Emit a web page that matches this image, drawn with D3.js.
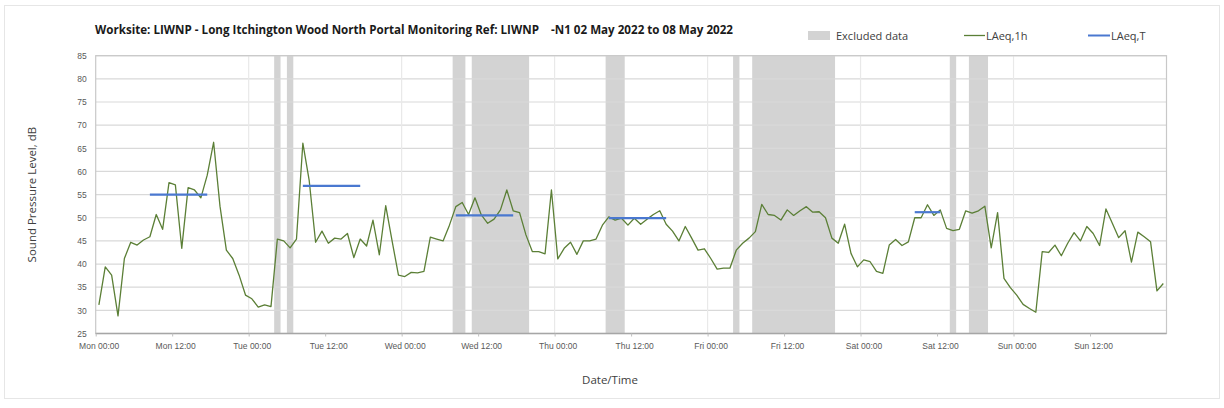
<!DOCTYPE html>
<html>
<head>
<meta charset="utf-8">
<script src="https://cdn.jsdelivr.net/npm/d3@7"></script>
<style>
	body { margin: 0; background: #fff; }
	svg { display: block; font-family: "Open Sans", "Noto Sans", sans-serif; }
	.tick text { fill: #595959; font-size: 8.5px; }
	.domain { display: none; }
</style>
</head>
<body>
<svg id="chart" width="1224" height="408"></svg>
<script>
// monitoring week, hourly LAeq values (first value is Mon 02 May 00:00-01:00)
var weekStart = "2022-05-02T00:00",
	weekEnd = "2022-05-09T00:00";

var laeq1h = [
	31.2, 39.4, 37.6, 28.8, 41.2, 44.7, 44.1, 45.2, 45.9, 50.7, 47.5, 57.6,
	57.1, 43.4, 56.5, 56.0, 54.3, 59.2, 66.3, 52.5, 43.0, 41.2, 37.6, 33.3,
	32.5, 30.7, 31.2, 30.8, 45.4, 45.0, 43.5, 45.4, 66.1, 58.0, 44.7, 47.1,
	44.5, 45.6, 45.4, 46.6, 41.4, 45.4, 43.9, 49.5, 42.0, 52.6, 45.0, 37.6,
	37.3, 38.2, 38.1, 38.4, 45.8, 45.4, 45.0, 48.4, 52.4, 53.3, 50.7, 54.3,
	50.6, 48.8, 49.7, 51.7, 56.0, 51.5, 51.1, 46.3, 42.7, 42.7, 42.2, 56.0,
	41.1, 43.4, 44.7, 42.1, 45.0, 45.0, 45.4, 48.4, 50.2, 49.5, 49.9, 48.4,
	49.9, 48.6, 49.7, 50.7, 51.5, 48.6, 47.1, 45.0, 48.1, 45.6, 43.0, 43.3,
	41.2, 38.9, 39.1, 39.1, 43.0, 44.5, 45.6, 47.0, 52.9, 50.7, 50.5, 49.5,
	51.7, 50.5, 51.5, 52.4, 51.2, 51.3, 50.0, 45.6, 44.5, 48.6, 42.3, 39.4,
	40.9, 40.5, 38.4, 38.0, 44.1, 45.3, 44.0, 44.8, 50.0, 50.0, 52.8, 50.5,
	51.7, 47.7, 47.2, 47.5, 51.5, 51.0, 51.5, 52.5, 43.5, 51.1, 36.9, 34.9,
	33.3, 31.3, 30.4, 29.6, 42.7, 42.5, 44.1, 41.8, 44.5, 46.8, 45.0, 48.1,
	46.6, 44.0, 51.9, 48.8, 45.7, 47.2, 40.4, 46.9, 45.9, 44.8, 34.2, 35.8
];

// daytime LAeq,T periods
var laeqTStart = ["2022-05-02T08:30", "2022-05-03T08:30", "2022-05-04T08:30", "2022-05-05T08:30", "2022-05-07T08:30"],
	laeqTEnd = ["2022-05-02T17:30", "2022-05-03T17:30", "2022-05-04T17:30", "2022-05-05T17:30", "2022-05-07T12:30"],
	laeqTValue = [55.0, 56.9, 50.5, 49.9, 51.2];

// excluded data periods
var excludedStart = ["2022-05-03T04:00", "2022-05-03T06:00", "2022-05-04T08:00", "2022-05-04T11:00",
	"2022-05-05T08:00", "2022-05-06T04:00", "2022-05-06T07:00", "2022-05-07T14:00", "2022-05-07T17:00"],
	excludedEnd = ["2022-05-03T05:00", "2022-05-03T07:00", "2022-05-04T10:00", "2022-05-04T20:00",
	"2022-05-05T11:00", "2022-05-06T05:00", "2022-05-06T20:00", "2022-05-07T15:00", "2022-05-07T20:00"];

var yTicks = [25, 30, 35, 40, 45, 50, 55, 60, 65, 70, 75, 80, 85];

var parse = d3.utcParse("%Y-%m-%dT%H:%M"),
	t0 = parse(weekStart),
	t1 = parse(weekEnd);

var margin = {left: 95.7, right: 57.5, top: 55.7, bottom: 74.5},
	W = 1224, H = 408;

var svg = d3.select("#chart");

var x = d3.scaleUtc()
	.domain([t0, t1])
	.range([margin.left, W - margin.right]);
var y = d3.scaleLinear()
	.domain([25, 85])
	.range([H - margin.bottom, margin.top]);

// outer frame
svg.append("rect")
	.attr("x", 4.5).attr("y", 5.5)
	.attr("width", 1215).attr("height", 393)
	.attr("fill", "none")
	.attr("stroke", "#e6e6e6");

// excluded bands
var bands = excludedStart.map(function(s, i) {
	return {s: parse(s), e: parse(excludedEnd[i])};
});
svg.append("g").selectAll("rect")
	.data(bands).enter().append("rect")
	.attr("x", function(d) {return x(d.s);})
	.attr("width", function(d) {return x(d.e) - x(d.s);})
	.attr("y", y(85))
	.attr("height", y(25) - y(85))
	.attr("fill", "#d3d3d3");

// grid
svg.append("g").selectAll("line")
	.data(yTicks.slice(1)).enter().append("line")
	.attr("x1", x(t0)).attr("x2", x(t1))
	.attr("y1", function(d) {return y(d);})
	.attr("y2", function(d) {return y(d);})
	.attr("stroke", "#d9d9d9")
	.attr("stroke-width", 1.2);

var days = d3.utcDay.range(d3.utcDay.offset(t0, 1), t1);
svg.append("g").selectAll("line")
	.data(days).enter().append("line")
	.attr("x1", function(d) {return x(d);})
	.attr("x2", function(d) {return x(d);})
	.attr("y1", y(85)).attr("y2", y(25))
	.attr("stroke", "#e9e9e9")
	.attr("stroke-width", 1.2);

// plot border
svg.append("rect")
	.attr("x", x(t0)).attr("y", y(85))
	.attr("width", x(t1) - x(t0))
	.attr("height", y(25) - y(85))
	.attr("fill", "none")
	.attr("stroke", "#c8c8c8")
	.attr("stroke-width", 1.2);
svg.append("line")
	.attr("x1", x(t0)).attr("x2", x(t1))
	.attr("y1", y(25)).attr("y2", y(25))
	.attr("stroke", "#a6a6a6")
	.attr("stroke-width", 1.4);

// axes
var xTicks = d3.utcHour.every(12).range(t0, t1);
svg.append("g")
	.attr("transform", "translate(0," + y(25) + ")")
	.call(d3.axisBottom(x)
		.tickValues(xTicks)
		.tickSize(3)
		.tickPadding(6)
		.tickFormat(d3.utcFormat("%a %H:%M")))
	.call(function(g) {
		g.selectAll(".tick line").attr("stroke", "#bfbfbf");
		g.selectAll(".tick text").attr("dx", 3);
	});

svg.append("g")
	.attr("transform", "translate(" + (x(t0) - 9) + ",0)")
	.call(d3.axisLeft(y)
		.tickValues(yTicks)
		.tickSize(0)
		.tickPadding(0));

// LAeq,1h line
var line = d3.line()
	.x(function(d, i) {return x(d3.utcMinute.offset(t0, i * 60 + 30));})
	.y(function(d) {return y(d);});
svg.append("path")
	.datum(laeq1h)
	.attr("d", line)
	.attr("fill", "none")
	.attr("stroke", "#5b7f36")
	.attr("stroke-width", 1.3)
	.attr("stroke-linejoin", "round");

// LAeq,T segments
svg.append("g").selectAll("line")
	.data(laeqTValue).enter().append("line")
	.attr("x1", function(d, i) {return x(parse(laeqTStart[i]));})
	.attr("x2", function(d, i) {return x(parse(laeqTEnd[i]));})
	.attr("y1", function(d) {return y(d);})
	.attr("y2", function(d) {return y(d);})
	.attr("stroke", "#4a78d0")
	.attr("stroke-width", 2.2);

// titles
svg.append("text")
	.attr("x", 95).attr("y", 34)
	.attr("font-size", 12)
	.attr("font-weight", 700)
	.attr("fill", "#1a1a1a")
	.attr("textLength", 638)
	.attr("lengthAdjust", "spacingAndGlyphs")
	.attr("xml:space", "preserve")
	.text("Worksite: LIWNP - Long Itchington Wood North Portal Monitoring Ref: LIWNP    -N1 02 May 2022 to 08 May 2022");

svg.append("text")
	.attr("transform", "translate(36," + ((y(25) + y(85)) / 2) + ") rotate(-90)")
	.attr("text-anchor", "middle")
	.attr("font-size", 11.5)
	.attr("fill", "#404040")
	.text("Sound Pressure Level, dB");

svg.append("text")
	.attr("x", 610).attr("y", 384)
	.attr("text-anchor", "middle")
	.attr("font-size", 11.5)
	.attr("fill", "#404040")
	.text("Date/Time");

// legend
var legend = svg.append("g")
	.attr("font-size", 11)
	.attr("fill", "#404040");
legend.append("rect")
	.attr("x", 808).attr("y", 31)
	.attr("width", 22).attr("height", 9)
	.attr("fill", "#d3d3d3");
legend.append("text")
	.attr("x", 836).attr("y", 39.5)
	.text("Excluded data");
legend.append("line")
	.attr("x1", 964).attr("x2", 985)
	.attr("y1", 35.5).attr("y2", 35.5)
	.attr("stroke", "#5b7f36")
	.attr("stroke-width", 1.3);
legend.append("text")
	.attr("x", 986).attr("y", 39.5)
	.text("LAeq,1h");
legend.append("line")
	.attr("x1", 1088).attr("x2", 1110)
	.attr("y1", 35.5).attr("y2", 35.5)
	.attr("stroke", "#4a78d0")
	.attr("stroke-width", 2);
legend.append("text")
	.attr("x", 1111).attr("y", 39.5)
	.text("LAeq,T");
</script>
</body>
</html>
